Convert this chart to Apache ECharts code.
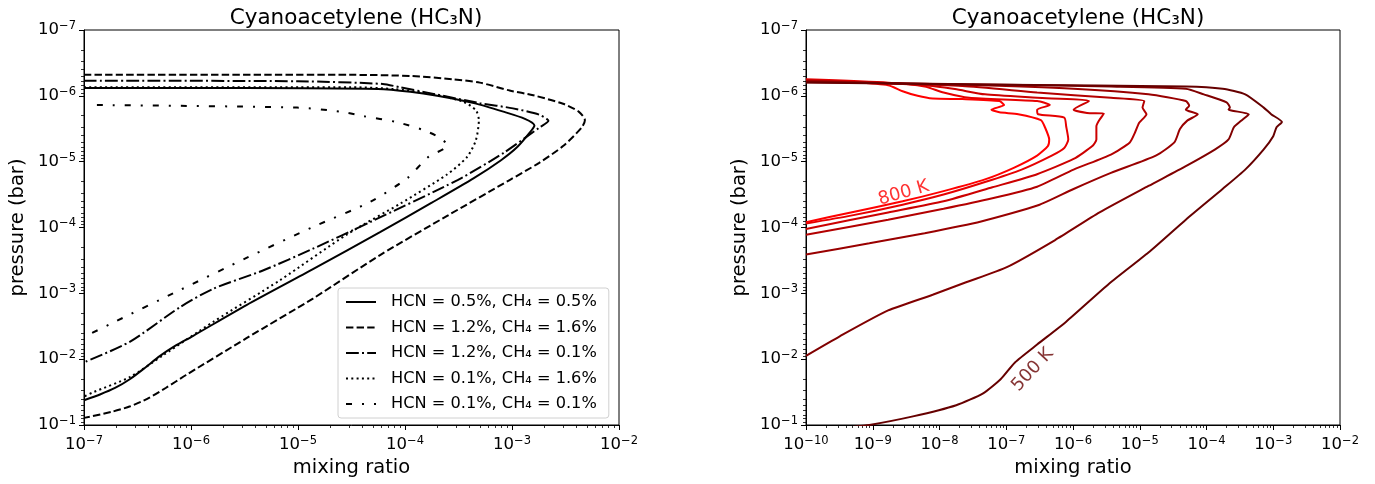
<!DOCTYPE html>
<html>
<head>
<meta charset="utf-8">
<script src="https://cdn.jsdelivr.net/npm/echarts@6/dist/echarts.min.js"></script>
<style>
html, body { margin: 0; padding: 0; background: #fff; }
#main { width: 1375px; height: 484px; }
</style>
</head>
<body>
<div id="main"></div>
<script>
// left panel: [mixing ratio, pressure (bar)]
var hcn05_ch405 = [[1e-7, 7.6e-7], [3.16e-6, 7.6e-7], [5.6e-5, 7.9e-7], [1.12e-4, 8.7e-7], [2.0e-4, 1.0e-6],
  [4.4e-4, 1.29e-6], [8.3e-4, 1.74e-6], [1.32e-3, 2.24e-6], [1.62e-3, 2.82e-6], [1.45e-3, 3.7e-6],
  [1.12e-3, 6.0e-6], [7.9e-4, 9.5e-6], [4.4e-4, 1.78e-5], [1.78e-4, 4.2e-5], [5.9e-5, 1.17e-4],
  [1.38e-5, 4.3e-4], [3.3e-6, 1.51e-3], [1.04e-6, 4.45e-3], [7.1e-7, 6.3e-3], [5.1e-7, 9.0e-3],
  [3.7e-7, 1.36e-2], [2.7e-7, 2.0e-2], [1.95e-7, 2.74e-2], [1.41e-7, 3.44e-2], [1e-7, 4.2e-2]];
var hcn12_ch416 = [[1e-7, 4.8e-7], [3.16e-5, 4.8e-7], [1.17e-4, 5.0e-7], [2.8e-4, 5.6e-7], [5.0e-4, 6.3e-7],
  [9.5e-4, 8.3e-7], [1.58e-3, 9.8e-7], [3.0e-3, 1.32e-6], [4.2e-3, 1.74e-6], [4.8e-3, 2.34e-6],
  [4.5e-3, 3.0e-6], [3.0e-3, 5.8e-6], [1.78e-3, 1.05e-5], [9.5e-4, 1.9e-5], [2.5e-4, 6.6e-5],
  [5.9e-5, 2.6e-4], [1.38e-5, 1.2e-3], [3.3e-6, 4.8e-3], [9.0e-7, 1.74e-2], [5.8e-7, 2.74e-2],
  [3.9e-7, 4.0e-2], [2.7e-7, 5.2e-2], [1.82e-7, 6.3e-2], [1e-7, 7.8e-2]];
var hcn12_ch401 = [[1e-7, 5.9e-7], [1e-5, 6.0e-7], [6.2e-5, 6.6e-7], [8.9e-5, 7.4e-7], [1.7e-4, 9.1e-7],
  [5.0e-4, 1.29e-6], [1.02e-3, 1.55e-6], [1.82e-3, 1.95e-6], [2.19e-3, 2.4e-6], [1.82e-3, 3.0e-6],
  [8.3e-4, 7.4e-6], [3.1e-4, 1.9e-5], [4.7e-5, 8.3e-5], [1.38e-5, 2.1e-4], [4.7e-6, 4.5e-4],
  [1.62e-6, 8.5e-4], [7.9e-7, 1.62e-3], [2.7e-7, 5.4e-3], [1e-7, 1.12e-2]];
var hcn01_ch416 = [[1e-7, 7.4e-7], [3.16e-5, 7.4e-7], [7.9e-5, 7.9e-7], [1.7e-4, 9.3e-7], [3.5e-4, 1.23e-6],
  [4.6e-4, 1.66e-6], [4.9e-4, 2.34e-6], [4.6e-4, 4.7e-6], [3.8e-4, 8.5e-6], [2.45e-4, 1.58e-5],
  [9.1e-5, 4.3e-5], [2.9e-5, 1.26e-4], [6.8e-6, 6.3e-4], [1.62e-6, 2.7e-3], [5.5e-7, 8.7e-3],
  [2.7e-7, 1.86e-2], [1.23e-7, 3.16e-2], [1e-7, 3.7e-2]];
var hcn01_ch401 = [[1.32e-7, 1.38e-6], [9.8e-6, 1.51e-6], [2.5e-5, 1.74e-6], [4.1e-5, 2.04e-6], [8.3e-5, 2.5e-6],
  [1.48e-4, 3.3e-6], [2.04e-4, 4.2e-6], [2.5e-4, 5.6e-6], [1.62e-4, 8.7e-6], [1.05e-4, 1.78e-5],
  [4.7e-5, 4.1e-5], [1.38e-5, 9.8e-5], [3.3e-6, 2.9e-4], [7.9e-7, 8.9e-4], [1.86e-7, 2.8e-3],
  [1e-7, 4.6e-3]];

var leftNames = ['HCN = 0.5%, CH₄ = 0.5%', 'HCN = 1.2%, CH₄ = 1.6%', 'HCN = 1.2%, CH₄ = 0.1%',
  'HCN = 0.1%, CH₄ = 1.6%', 'HCN = 0.1%, CH₄ = 0.1%'];
var leftData = [hcn05_ch405, hcn12_ch416, hcn12_ch401, hcn01_ch416, hcn01_ch401];

// right panel, one curve per temperature
var t800 = [[1e-10, 5.75e-7], [4.7e-10, 6.2e-7], [1.7e-9, 6.9e-7], [2.8e-9, 8.5e-7], [4.7e-9, 1.0e-6],
  [7.9e-9, 1.1e-6], [2.2e-8, 1.12e-6], [7.9e-8, 1.2e-6], [9.3e-8, 1.38e-6], [6.0e-8, 1.62e-6],
  [7.9e-8, 1.78e-6], [1.51e-7, 1.9e-6], [3.3e-7, 2.34e-6], [3.8e-7, 3.0e-6], [4.4e-7, 4.6e-6],
  [4.2e-7, 5.8e-6], [2.9e-7, 8.1e-6], [1.32e-7, 1.23e-5], [4.8e-8, 1.86e-5], [1.15e-8, 2.8e-5],
  [2.8e-9, 4.0e-5], [4.7e-10, 5.9e-5], [1e-10, 8.3e-5]];
var t750 = [[1e-10, 5.6e-7], [1.7e-9, 6.3e-7], [6.0e-9, 7.2e-7], [1.15e-8, 8.9e-7], [2.8e-8, 1.07e-6],
  [2.9e-7, 1.2e-6], [4.5e-7, 1.38e-6], [2.9e-7, 1.62e-6], [3.0e-7, 1.9e-6], [7.4e-7, 2.14e-6],
  [7.9e-7, 2.9e-6], [8.5e-7, 4.6e-6], [7.4e-7, 6.2e-6], [4.8e-7, 8.1e-6], [1.7e-7, 1.32e-5],
  [4.8e-8, 2.04e-5], [1.15e-8, 3.16e-5], [2.8e-9, 4.5e-5], [4.7e-10, 6.6e-5], [1e-10, 8.7e-5]];
var t700 = [[1e-10, 5.75e-7], [6.0e-9, 6.9e-7], [1.7e-8, 7.9e-7], [4.8e-8, 9.5e-7], [2.9e-7, 1.07e-6],
  [1.74e-6, 1.2e-6], [1.02e-6, 1.62e-6], [1.62e-6, 1.82e-6], [2.9e-6, 1.86e-6], [2.5e-6, 2.3e-6],
  [2.24e-6, 2.9e-6], [2.24e-6, 4.6e-6], [1.95e-6, 5.8e-6], [1.02e-6, 9.1e-6], [2.9e-7, 1.55e-5],
  [6.2e-8, 2.45e-5], [1.15e-8, 4.0e-5], [1.7e-9, 5.9e-5], [1e-10, 1.05e-4]];
var t650 = [[1e-10, 5.9e-7], [2.2e-8, 7.1e-7], [2.9e-7, 8.9e-7], [3.7e-6, 1.07e-6], [1.17e-5, 1.2e-6],
  [1.1e-5, 1.51e-6], [1.26e-5, 1.9e-6], [9.8e-6, 2.57e-6], [8.5e-6, 3.6e-6], [7.1e-6, 5.1e-6],
  [3.7e-6, 7.8e-6], [1.02e-6, 1.32e-5], [2.9e-7, 2.4e-5], [6.2e-8, 3.6e-5], [1.15e-8, 5.2e-5],
  [1.7e-9, 7.6e-5], [1e-10, 1.29e-4]];
var t600 = [[1e-10, 6.0e-7], [2.2e-8, 6.8e-7], [1.02e-6, 7.8e-7], [1.35e-5, 9.5e-7], [4.9e-5, 1.2e-6],
  [5.5e-5, 1.41e-6], [4.9e-5, 1.62e-6], [7.4e-5, 1.9e-6], [5.1e-5, 2.4e-6], [4.0e-5, 3.2e-6],
  [3.3e-5, 5.1e-6], [1.74e-5, 8.1e-6], [3.7e-6, 1.48e-5], [1.02e-6, 2.6e-5], [3.0e-7, 4.6e-5],
  [4.2e-8, 8.1e-5], [6.0e-9, 1.22e-4], [8.9e-10, 1.74e-4], [1e-10, 2.57e-4]];
var t550 = [[1e-10, 6.2e-7], [1e-7, 6.8e-7], [3.7e-6, 7.2e-7], [4.9e-5, 7.8e-7], [9.1e-5, 9.5e-7],
  [2.0e-4, 1.26e-6], [2.24e-4, 1.51e-6], [2.14e-4, 1.62e-6], [4.3e-4, 1.9e-6], [3.3e-4, 2.4e-6],
  [2.57e-4, 3.0e-6], [2.14e-4, 4.6e-6], [1.35e-4, 6.5e-6], [4.9e-5, 1.17e-5], [1.35e-5, 2.34e-5],
  [2.5e-6, 5.9e-5], [5.4e-7, 1.55e-4], [1.02e-7, 4.0e-4], [2.5e-8, 6.8e-4], [7.9e-9, 1.05e-3],
  [1.7e-9, 1.82e-3], [3.2e-10, 4.5e-3], [1e-10, 8.9e-3]];
var t500 = [[1e-10, 6.3e-7], [1e-7, 6.8e-7], [4.9e-5, 7.2e-7], [1.74e-4, 7.8e-7], [3.8e-4, 9.5e-7],
  [7.2e-4, 1.51e-6], [9.3e-4, 1.9e-6], [1.35e-3, 2.5e-6], [1.12e-3, 3.0e-6], [1.0e-3, 4.1e-6],
  [7.2e-4, 6.5e-6], [3.8e-4, 1.32e-5], [1.74e-4, 2.6e-5], [4.9e-5, 7.6e-5], [1.35e-5, 2.4e-4],
  [3.5e-6, 7.1e-4], [7.9e-7, 2.7e-3], [2.9e-7, 6.0e-3], [1.35e-7, 1.12e-2], [8.3e-8, 2.0e-2],
  [4.5e-8, 3.3e-2], [1.78e-8, 5.0e-2], [4.0e-9, 7.4e-2], [8.9e-10, 1e-1], [5.0e-10, 1.07e-1]];

var tempNames = ['800 K', '750 K', '700 K', '650 K', '600 K', '550 K', '500 K'];
var tempData = [t800, t750, t700, t650, t600, t550, t500];

// where the two contour labels sit
var label800 = [[2.9e-9, 3.0e-5]];
var label500 = [[2.5e-7, 1.45e-2]];

var FONT = 'DejaVu Sans';
var leftDash = ['solid', [7.4, 3.2], [12.8, 3.2, 2, 3.2], [2, 3.3], [6, 10, 2, 10]];
var tempColors = ['#ff0000', '#e60000', '#cc0000', '#b30000', '#990000', '#800000', '#660000'];

var chart = echarts.init(document.getElementById('main'));

function powLabel(v) {
  var e = Math.round(Math.log10(v));
  return '{b|10}{s|' + (e < 0 ? '\u2212' : '') + Math.abs(e) + '}';
}

// minor tick spots (2..9 x 10^n) in log10 units, for the overlay axes
function minorSpots(lo, hi) {
  var out = [];
  for (var n = lo; n < hi; n++) {
    for (var k = 2; k <= 9; k++) out.push(n + Math.log10(k));
  }
  return out;
}

function logAxis(grid, min, max, splits, name, gap, isY) {
  return {
    type: 'log', logBase: 10, gridIndex: grid, min: min, max: max, splitNumber: splits,
    inverse: isY, position: isY ? 'left' : 'bottom',
    name: name, nameLocation: 'middle', nameGap: gap,
    nameTextStyle: { fontFamily: FONT, fontSize: 19.5, color: '#000' },
    axisLine: { show: true, lineStyle: { color: '#000', width: 1 } },
    axisTick: { show: true, length: 5, lineStyle: { color: '#000', width: 1 } },
    splitLine: { show: false },
    axisLabel: {
      margin: isY ? 8 : 10, showMinLabel: true, showMaxLabel: true,
      formatter: powLabel,
      rich: {
        b: { fontFamily: FONT, fontSize: 16.5, color: '#000', lineHeight: 20 },
        s: { fontFamily: FONT, fontSize: 11.5, color: '#000', lineHeight: 12, verticalAlign: 'top' }
      }
    }
  };
}

function minorAxis(grid, lo, hi, isY) {
  return {
    type: 'value', gridIndex: grid, min: lo, max: hi, inverse: isY,
    position: isY ? 'left' : 'bottom',
    axisLine: { show: false }, axisLabel: { show: false }, splitLine: { show: false },
    axisTick: { show: true, length: 3, customValues: minorSpots(lo, hi),
      lineStyle: { color: '#000', width: 0.8 } }
  };
}

var series = [];
leftData.forEach(function (d, i) {
  series.push({
    name: leftNames[i], type: 'line', xAxisIndex: 0, yAxisIndex: 0,
    data: d, symbol: 'circle', showSymbol: false, smooth: 0.25, silent: true,
    lineStyle: { color: '#000', width: 2, type: leftDash[i] },
    itemStyle: { color: '#000' },
    emphasis: { disabled: true }
  });
});
tempData.forEach(function (d, i) {
  series.push({
    name: tempNames[i], type: 'line', xAxisIndex: 1, yAxisIndex: 1,
    data: d, symbol: 'none', showSymbol: false, smooth: 0.2, silent: true,
    lineStyle: { color: tempColors[i], width: 2 },
    emphasis: { disabled: true }
  });
});
series.push({
  type: 'scatter', xAxisIndex: 1, yAxisIndex: 1, data: label800, symbolSize: 0, silent: true,
  label: { show: true, position: 'inside', formatter: '800 K', rotate: 16,
    color: '#ff0000', fontFamily: FONT, fontSize: 18 }
});
series.push({
  type: 'scatter', xAxisIndex: 1, yAxisIndex: 1, data: label500, symbolSize: 0, silent: true,
  label: { show: true, position: 'inside', formatter: '500 K', rotate: 47,
    color: '#660000', fontFamily: FONT, fontSize: 18 }
});

var titleStyle = { fontFamily: FONT, fontSize: 21.5, fontWeight: 'normal', color: '#000' };

chart.setOption({
  animation: false,
  backgroundColor: '#fff',
  title: [
    { text: 'Cyanoacetylene (HC₃N)', left: 351, top: 2, textAlign: 'center', textStyle: titleStyle },
    { text: 'Cyanoacetylene (HC₃N)', left: 1073, top: 2, textAlign: 'center', textStyle: titleStyle }
  ],
  grid: [
    { left: 84, top: 30, width: 535, height: 395, show: true, borderColor: '#000', borderWidth: 1, containLabel: false },
    { left: 806, top: 30, width: 534, height: 395, show: true, borderColor: '#000', borderWidth: 1, containLabel: false }
  ],
  xAxis: [
    logAxis(0, 1e-7, 1e-2, 5, 'mixing ratio', 32, false),
    logAxis(1, 1e-10, 1e-2, 8, 'mixing ratio', 32, false),
    minorAxis(0, -7, -2, false),
    minorAxis(1, -10, -2, false)
  ],
  yAxis: [
    logAxis(0, 1e-7, 1e-1, 6, 'pressure (bar)', 56, true),
    logAxis(1, 1e-7, 1e-1, 6, 'pressure (bar)', 56, true),
    minorAxis(0, -7, -1, true),
    minorAxis(1, -7, -1, true)
  ],
  legend: {
    data: leftNames, orient: 'vertical', left: 338, top: 288,
    padding: [6, 12, 6, 7], itemGap: 9.5, itemWidth: 30, itemHeight: 16,
    backgroundColor: 'rgba(255,255,255,0.85)', borderColor: '#d0d0d0', borderWidth: 1, borderRadius: 3,
    selectedMode: false,
    itemStyle: { color: 'rgba(0,0,0,0)', borderWidth: 0, opacity: 0 },
    textStyle: { fontFamily: FONT, fontSize: 16.2, color: '#000', padding: [0, 0, 0, 10] }
  },
  series: series
});
</script>
</body>
</html>
